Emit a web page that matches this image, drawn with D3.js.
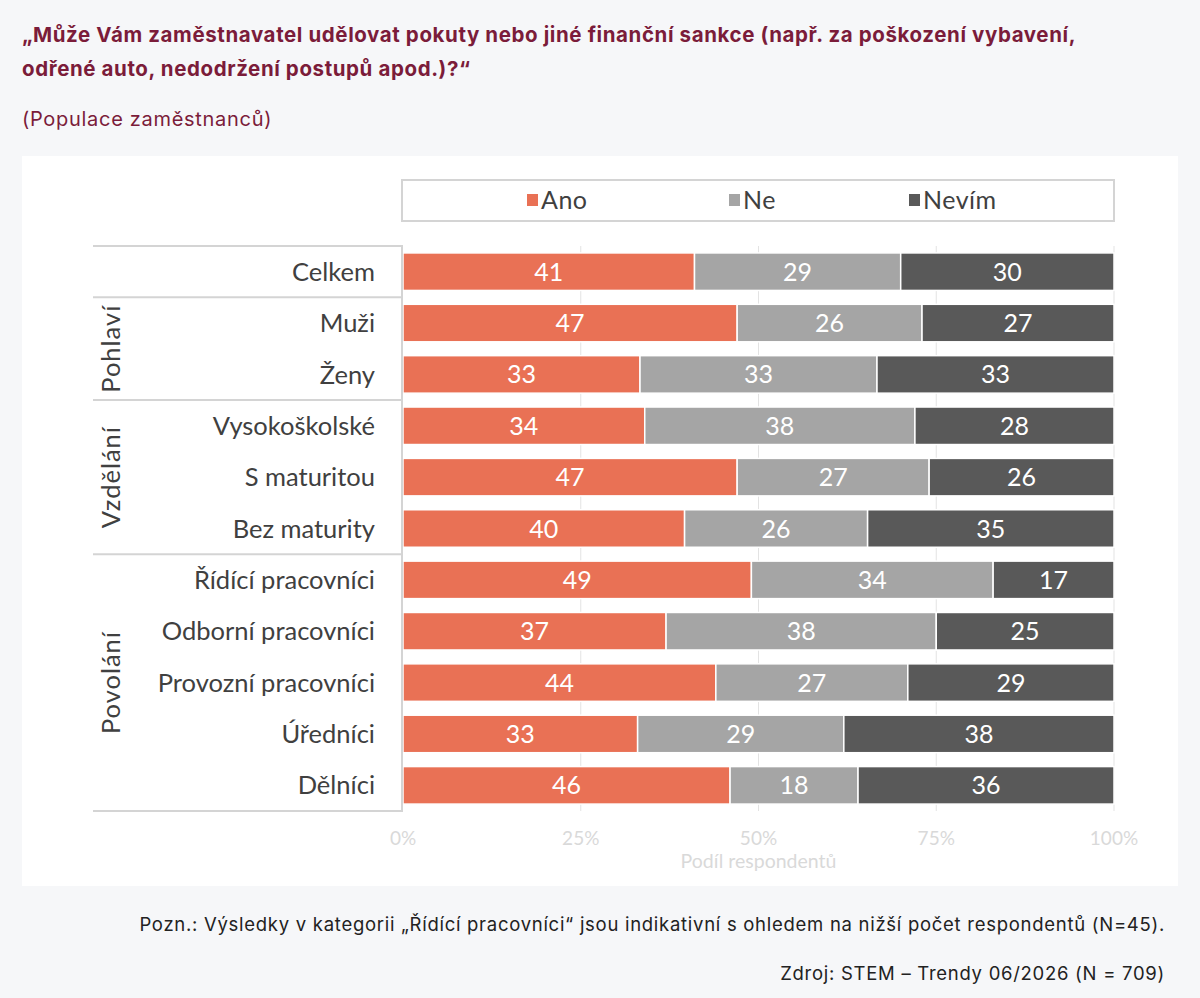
<!DOCTYPE html>
<html>
<head>
<meta charset="utf-8">
<script src="https://cdn.jsdelivr.net/npm/d3@7"></script>
<style>
  body { margin: 0; background: #f6f7f9; }
  svg { display: block; }
</style>
</head>
<body>
<div id="chart"></div>
<script>
// data
let categories = ['Celkem', 'Muži', 'Ženy', 'Vysokoškolské', 'S maturitou', 'Bez maturity',
  'Řídící pracovníci', 'Odborní pracovníci', 'Provozní pracovníci', 'Úředníci', 'Dělníci'];
let seriesNames = ['Ano', 'Ne', 'Nevím'];
let ano   = [41, 47, 33, 34, 47, 40, 49, 37, 44, 33, 46];
let ne    = [29, 26, 33, 38, 27, 26, 34, 38, 27, 29, 18];
let nevim = [30, 27, 33, 28, 26, 35, 17, 25, 29, 38, 36];
let groups = [
  { name: '', from: 0, to: 0 },
  { name: 'Pohlaví', from: 1, to: 2 },
  { name: 'Vzdělání', from: 3, to: 5 },
  { name: 'Povolání', from: 6, to: 10 }
];
let xTicks = [0, 25, 50, 75, 100];

let colors = ['#e97155', '#a5a5a5', '#595959'];

let width = 1200, height = 998;
let svg = d3.select('#chart').append('svg')
  .attr('width', width)
  .attr('height', height);

let pageFont = 'Inter';
let chartFont = 'Lato';

// title + subtitle
let titleLines = ['„Může Vám zaměstnavatel udělovat pokuty nebo jiné finanční sankce (např. za poškození vybavení,',
  'odřené auto, nedodržení postupů apod.)?“'];
svg.append('g').selectAll('text')
  .data(titleLines)
  .enter().append('text')
  .attr('x', 22).attr('y', (d, i) => 42 + i * 34)
  .attr('font-family', pageFont).attr('font-weight', 'bold')
  .attr('font-size', 20.5).attr('letter-spacing', 0.6)
  .attr('fill', '#7b1c3a')
  .text(d => d);
svg.append('text')
  .attr('x', 22).attr('y', 126)
  .attr('font-family', pageFont)
  .attr('font-size', 20).attr('letter-spacing', 0.7)
  .attr('fill', '#7b1c3a')
  .text('(Populace zaměstnanců)');

// white card
svg.append('rect')
  .attr('x', 22).attr('y', 156)
  .attr('width', 1156).attr('height', 730)
  .attr('fill', '#ffffff');

let x = d3.scaleLinear().domain([0, 100]).range([403, 1114]);
let y = d3.scaleBand().domain(categories).range([246, 811]).paddingInner(0.27).paddingOuter(0.135);

// gridlines
svg.append('g').selectAll('line')
  .data(xTicks.slice(1))
  .enter().append('line')
  .attr('x1', d => x(d)).attr('x2', d => x(d))
  .attr('y1', 246).attr('y2', 811)
  .attr('stroke', '#e3e3e3').attr('stroke-width', 1);

// stacked data, normalised to 100
let rows = categories.map((c, i) => {
  let vals = [ano[i], ne[i], nevim[i]];
  let tot = d3.sum(vals);
  let acc = 0;
  return vals.map((v, j) => {
    let seg = { cat: c, s: j, v: v, x0: acc / tot * 100 };
    acc += v;
    seg.x1 = acc / tot * 100;
    return seg;
  });
});
let segs = rows.flat();

svg.append('g').selectAll('rect')
  .data(segs)
  .enter().append('rect')
  .attr('x', d => x(d.x0))
  .attr('y', d => y(d.cat))
  .attr('width', d => x(d.x1) - x(d.x0))
  .attr('height', y.bandwidth())
  .attr('fill', d => colors[d.s])
  .attr('stroke', '#ffffff').attr('stroke-width', 1.5);

svg.append('g').selectAll('text')
  .data(segs)
  .enter().append('text')
  .attr('x', d => (x(d.x0) + x(d.x1)) / 2)
  .attr('y', d => y(d.cat) + y.bandwidth() / 2)
  .attr('dy', '0.36em')
  .attr('text-anchor', 'middle')
  .attr('font-family', chartFont).attr('font-size', 25)
  .attr('fill', '#ffffff')
  .text(d => d.v);

// left table lines
let lineColor = '#d4d4d4';
let tbl = svg.append('g');
let sepY = (i) => i === 0 ? 246 : (i >= categories.length ? 811 : y(categories[i]) - y.step() * y.paddingInner() / 2);
let boundaries = [0, 1, 3, 6, categories.length];
tbl.selectAll('line.h')
  .data(boundaries)
  .enter().append('line')
  .attr('x1', 93).attr('x2', 403)
  .attr('y1', d => sepY(d)).attr('y2', d => sepY(d))
  .attr('stroke', lineColor).attr('stroke-width', 2);
tbl.append('line')
  .attr('x1', 402).attr('x2', 402)
  .attr('y1', 246).attr('y2', 811)
  .attr('stroke', lineColor).attr('stroke-width', 2);

// category labels
svg.append('g').selectAll('text')
  .data(categories)
  .enter().append('text')
  .attr('x', 375)
  .attr('y', d => y(d) + y.bandwidth() / 2)
  .attr('dy', '0.36em')
  .attr('text-anchor', 'end')
  .attr('font-family', chartFont).attr('font-size', 25.5)
  .attr('fill', '#404040')
  .text(d => d);

// group labels
svg.append('g').selectAll('text')
  .data(groups.filter(g => g.name))
  .enter().append('text')
  .attr('transform', g => {
    let cy = (sepY(g.from) + sepY(g.to + 1)) / 2;
    return 'translate(111,' + cy + ') rotate(-90)';
  })
  .attr('dy', '0.36em')
  .attr('text-anchor', 'middle')
  .attr('font-family', chartFont).attr('font-size', 25.5)
  .attr('letter-spacing', 1)
  .attr('fill', '#404040')
  .text(g => g.name);

// x axis labels
svg.append('g').selectAll('text')
  .data(xTicks)
  .enter().append('text')
  .attr('x', d => x(d))
  .attr('y', 845)
  .attr('text-anchor', 'middle')
  .attr('font-family', chartFont).attr('font-size', 19)
  .attr('fill', '#d9d9d9')
  .text(d => d + '%');
svg.append('text')
  .attr('x', x(50)).attr('y', 868)
  .attr('text-anchor', 'middle')
  .attr('font-family', chartFont).attr('font-size', 19.5)
  .attr('fill', '#d9d9d9')
  .text('Podíl respondentů');

// legend
let lg = svg.append('g');
lg.append('rect')
  .attr('x', 402).attr('y', 180)
  .attr('width', 712).attr('height', 41)
  .attr('fill', '#ffffff')
  .attr('stroke', '#d4d4d4').attr('stroke-width', 2);
let legendX = [527, 729, 909];
let li = lg.selectAll('g.item')
  .data(seriesNames)
  .enter().append('g')
  .attr('transform', (d, i) => 'translate(' + legendX[i] + ',200)');
li.append('rect')
  .attr('x', 0).attr('y', -6)
  .attr('width', 11).attr('height', 12)
  .attr('fill', (d, i) => colors[i]);
li.append('text')
  .attr('x', 14).attr('dy', '0.36em')
  .attr('font-family', chartFont).attr('font-size', 25)
  .attr('letter-spacing', 0.5)
  .attr('fill', '#404040')
  .text(d => d);

// notes
let notes = ['Pozn.: Výsledky v kategorii „Řídící pracovníci“ jsou indikativní s ohledem na nižší počet respondentů (N=45).',
  'Zdroj: STEM – Trendy 06/2026 (N = 709)'];
svg.append('g').selectAll('text')
  .data(notes)
  .enter().append('text')
  .attr('x', 1165).attr('y', (d, i) => 931 + i * 49)
  .attr('text-anchor', 'end')
  .attr('font-family', pageFont).attr('font-size', 18.5)
  .attr('letter-spacing', 0.72)
  .attr('fill', '#222222')
  .text(d => d);
</script>
</body>
</html>
